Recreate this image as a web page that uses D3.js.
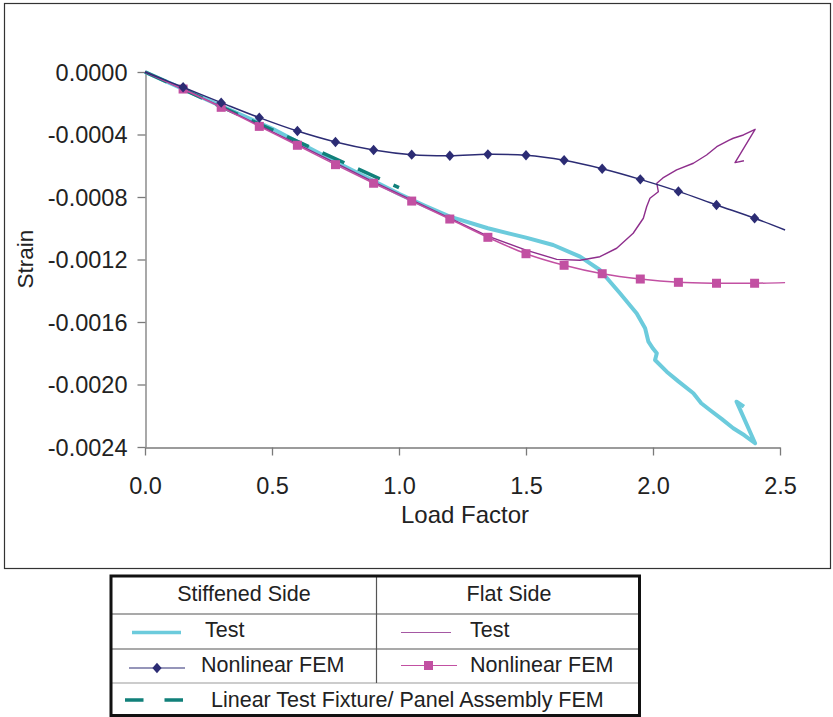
<!DOCTYPE html>
<html><head><meta charset="utf-8">
<script src="https://cdn.jsdelivr.net/npm/d3@7"></script>
<style>
body{margin:0;background:#fff;}
svg{display:block;font-family:"Liberation Sans",Arial,sans-serif;}
</style></head>
<body><svg id="c" width="833" height="717"></svg>
<script>
// ---- data ----
const xTicks = [0, 0.5, 1.0, 1.5, 2.0, 2.5];
const yTicks = [0, -0.0004, -0.0008, -0.0012, -0.0016, -0.0020, -0.0024];

const stiffTestLoad = [0, 0.25, 0.5, 0.75, 1.0, 1.1, 1.2, 1.35, 1.5, 1.607, 1.713, 1.791, 1.87, 1.936, 1.969, 1.982, 2.0, 2.015, 2.008, 2.054, 2.1, 2.159, 2.19, 2.224, 2.27, 2.316, 2.36, 2.402, 2.329, 2.358];
const stiffTestStrain = [0, -0.000182, -0.000362, -0.000575, -0.000780, -0.000855, -0.000926, -0.001000, -0.00106, -0.001107, -0.001182, -0.001267, -0.001416, -0.001545, -0.00164, -0.001726, -0.00177, -0.0018, -0.001843, -0.001918, -0.00198, -0.002056, -0.00212, -0.002163, -0.00222, -0.00228, -0.002325, -0.002376, -0.00211, -0.002142];

const flatTestLoad = [0, 0.3, 0.6, 0.9, 1.2, 1.35, 1.5, 1.621, 1.713, 1.791, 1.857, 1.922, 1.962, 1.975, 1.988, 2.021, 2.015, 2.039, 2.093, 2.159, 2.211, 2.251, 2.3, 2.316, 2.356, 2.402, 2.323, 2.358];
const flatTestStrain = [0, -0.000222, -0.000462, -0.000703, -0.000935, -0.00105, -0.00114, -0.001199, -0.001205, -0.001182, -0.001128, -0.001032, -0.000936, -0.000862, -0.000808, -0.000766, -0.000712, -0.000678, -0.000627, -0.000584, -0.000531, -0.000478, -0.000436, -0.000424, -0.000403, -0.000367, -0.00058, -0.000568];

const femLoad = [0, 0.15, 0.3, 0.45, 0.6, 0.75, 0.9, 1.05, 1.2, 1.35, 1.5, 1.65, 1.8, 1.95, 2.1, 2.25, 2.4, 2.52];
const stiffFemStrain = [0, -0.000098, -0.000196, -0.000292, -0.000378, -0.000448, -0.000499, -0.000529, -0.000536, -0.000527, -0.000533, -0.000565, -0.000619, -0.000687, -0.000764, -0.000851, -0.000936, -0.001011];
const flatFemStrain = [0, -0.000109, -0.000226, -0.000348, -0.000469, -0.000593, -0.000712, -0.000826, -0.000941, -0.001058, -0.001163, -0.001237, -0.001291, -0.001325, -0.001346, -0.001352, -0.001352, -0.001348];

const linearLoad = [0, 1.0];
const linearStrain = [0, -0.00074];

// ---- layout ----
const svg = d3.select("#c");
const x = d3.scaleLinear().domain([0, 2.5]).range([145, 780]);
const y = d3.scaleLinear().domain([-0.0024, 0]).range([447, 72]);
const axisColor = "#7a7a7a";
const textColor = "#222";
const diamond = "M0,-5.2L4.6,0L0,5.2L-4.6,0Z";

svg.append("rect").attr("x", 4.5).attr("y", 3.5).attr("width", 826).attr("height", 565)
  .attr("fill", "none").attr("stroke", "#333").attr("stroke-width", 1.2);

// axes
const xAxis = svg.append("g").attr("transform", "translate(0,447.5)")
  .call(d3.axisBottom(x).tickValues(xTicks).tickFormat(d3.format(".1f")).tickSize(8).tickSizeOuter(0));
const yAxis = svg.append("g").attr("transform", "translate(145.5,0)")
  .call(d3.axisLeft(y).tickValues(yTicks)
    .tickFormat(d => (d === 0 ? "0.0000" : d3.format(".4f")(d)).replace("\u2212", "-"))
    .tickSize(8).tickSizeOuter(0));
[xAxis, yAxis].forEach(g => {
  g.select(".domain").attr("stroke", axisColor).attr("stroke-width", 1.3);
  g.selectAll(".tick line").attr("stroke", axisColor).attr("stroke-width", 1.3);
  g.selectAll(".tick text").attr("fill", textColor).attr("font-size", 23.5)
    .attr("font-family", "'Liberation Sans', Arial, sans-serif");
});
xAxis.selectAll(".tick text").attr("dy", null).attr("y", 46);
yAxis.selectAll(".tick text").attr("x", -18).attr("dy", "0.35em");

svg.append("text").attr("x", 465).attr("y", 523).attr("text-anchor", "middle")
  .attr("font-size", 24).attr("fill", textColor).text("Load Factor");
svg.append("text").attr("transform", "translate(33,259) rotate(-90)").attr("text-anchor", "middle")
  .attr("font-size", 22.5).attr("fill", textColor).text("Strain");

// ---- series ----
const zip = (a, b) => a.map((v, i) => [v, b[i]]);
const lineLin = d3.line().x(d => x(d[0])).y(d => y(d[1]));
const lineSmooth = d3.line().x(d => x(d[0])).y(d => y(d[1])).curve(d3.curveCatmullRom.alpha(0.5));

const cBlue = "#6ccbdc", cTeal = "#11807a", cPurple = "#8e2e8c", cPink = "#c250a2", cNavy = "#2c2c74";

svg.append("path").datum(zip(stiffTestLoad, stiffTestStrain)).attr("d", lineLin)
  .attr("fill", "none").attr("stroke", cBlue).attr("stroke-width", 4).attr("stroke-linejoin", "round");
svg.append("path").datum(zip(linearLoad, linearStrain)).attr("d", lineLin)
  .attr("fill", "none").attr("stroke", cTeal).attr("stroke-width", 3.5).attr("stroke-dasharray", "24,15");
svg.append("path").datum(zip(flatTestLoad, flatTestStrain)).attr("d", lineLin)
  .attr("fill", "none").attr("stroke", cPurple).attr("stroke-width", 1.4).attr("stroke-linejoin", "round");

const flatFem = zip(femLoad, flatFemStrain);
svg.append("path").datum(flatFem).attr("d", lineSmooth)
  .attr("fill", "none").attr("stroke", cPink).attr("stroke-width", 1.5);
svg.append("g").selectAll("rect").data(flatFem.slice(1, -1)).join("rect")
  .attr("x", d => x(d[0]) - 4.5).attr("y", d => y(d[1]) - 4.5).attr("width", 9).attr("height", 9)
  .attr("fill", cPink);

const stiffFem = zip(femLoad, stiffFemStrain);
svg.append("path").datum(stiffFem).attr("d", lineSmooth)
  .attr("fill", "none").attr("stroke", cNavy).attr("stroke-width", 1.5);
svg.append("g").selectAll("path").data(stiffFem.slice(1, -1)).join("path")
  .attr("d", diamond)
  .attr("transform", d => `translate(${x(d[0])},${y(d[1])})`).attr("fill", cNavy);

// ---- legend table ----
const L = svg.append("g");
const lx0 = 111, lx1 = 639.5, lxm = 376.5, ly0 = 576, ly1 = 715.5;
const rows = [614, 649, 683];
rows.forEach((ry, i) => {
  L.append("line").attr("x1", lx0).attr("x2", lx1).attr("y1", ry).attr("y2", ry)
    .attr("stroke", i === 2 ? "#999" : "#555").attr("stroke-width", 1.2);
});
L.append("line").attr("x1", lxm).attr("x2", lxm).attr("y1", ly0).attr("y2", 683)
  .attr("stroke", "#555").attr("stroke-width", 1.2);
L.append("rect").attr("x", lx0).attr("y", ly0).attr("width", lx1 - lx0).attr("height", ly1 - ly0)
  .attr("fill", "none").attr("stroke", "#111").attr("stroke-width", 3);

const lt = (tx, ty, s, anchor) => L.append("text").attr("x", tx).attr("y", ty).attr("font-size", 21.5)
  .attr("fill", textColor).attr("text-anchor", anchor || "start").text(s);
lt(244, 601, "Stiffened Side", "middle");
lt(509, 601, "Flat Side", "middle");
lt(205, 637, "Test");
lt(470, 637, "Test");
lt(201, 672, "Nonlinear FEM");
lt(470, 672, "Nonlinear FEM");
lt(211, 706.5, "Linear Test Fixture/ Panel Assembly FEM");

L.append("line").attr("x1", 132).attr("x2", 181).attr("y1", 632.5).attr("y2", 632.5).attr("stroke", cBlue).attr("stroke-width", 3.5);
L.append("line").attr("x1", 401).attr("x2", 451).attr("y1", 632.5).attr("y2", 632.5).attr("stroke", cPurple).attr("stroke-width", 1.2).attr("stroke-opacity", 0.8);
L.append("line").attr("x1", 129).attr("x2", 185).attr("y1", 668).attr("y2", 668).attr("stroke", cNavy).attr("stroke-width", 1.2);
L.append("path").attr("d", diamond).attr("transform", "translate(157,668)").attr("fill", cNavy);
L.append("line").attr("x1", 401).attr("x2", 457).attr("y1", 665.5).attr("y2", 665.5).attr("stroke", cPink).attr("stroke-width", 1.2);
L.append("rect").attr("x", 424).attr("y", 661).attr("width", 9).attr("height", 9).attr("fill", cPink);
L.append("line").attr("x1", 125).attr("x2", 192).attr("y1", 700).attr("y2", 700).attr("stroke", cTeal).attr("stroke-width", 3.5).attr("stroke-dasharray", "18.5,21");
</script></body></html>
